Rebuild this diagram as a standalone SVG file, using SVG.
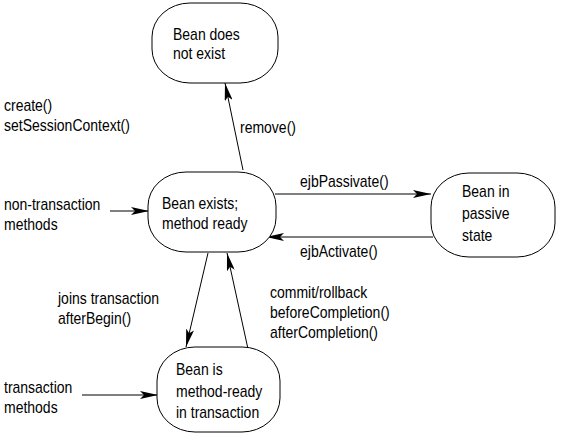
<svg xmlns="http://www.w3.org/2000/svg" width="561" height="438" viewBox="0 0 561 438">
<style>
text{font-family:"Liberation Sans",Arial,sans-serif;font-size:16px;fill:#000}
.n{fill:#fff;stroke:#000;stroke-width:1}
.c{stroke:#000;stroke-width:1;fill:none;marker-end:url(#ah)}
</style>
<defs>
<marker id="ah" viewBox="0 0 18 8" refX="18" refY="4" markerWidth="18" markerHeight="8" markerUnits="userSpaceOnUse" orient="auto">
<path d="M0,0 L18,4 L0,8 L4,4 z" fill="#000"/>
</marker>
</defs>
<rect width="561" height="438" fill="#fff"/>
<g id="connectors">
<line class="c" x1="243" y1="170" x2="225" y2="83"/>
<line class="c" x1="275" y1="194" x2="431" y2="194"/>
<line class="c" x1="433" y1="237" x2="266" y2="237"/>
<line class="c" x1="208" y1="253" x2="186" y2="347"/>
<line class="c" x1="248" y1="349" x2="227" y2="253"/>
<line class="c" x1="110" y1="211" x2="149" y2="211"/>
<line class="c" x1="82" y1="395" x2="158" y2="395"/>
</g>
<g id="labels">
<text transform="translate(4,111) scale(0.875,1)">create()</text>
<text transform="translate(4,131) scale(0.875,1)">setSessionContext()</text>
<text transform="translate(240,133) scale(0.875,1)">remove()</text>
<text transform="translate(300,187) scale(0.875,1)">ejbPassivate()</text>
<text transform="translate(300,257) scale(0.875,1)">ejbActivate()</text>
<text transform="translate(4,210) scale(0.875,1)">non-transaction</text>
<text transform="translate(4,230) scale(0.875,1)">methods</text>
<text transform="translate(58,304) scale(0.875,1)">joins transaction</text>
<text transform="translate(58,324) scale(0.875,1)">afterBegin()</text>
<text transform="translate(270,298) scale(0.875,1)">commit/rollback</text>
<text transform="translate(270,318) scale(0.875,1)">beforeCompletion()</text>
<text transform="translate(270,338) scale(0.875,1)">afterCompletion()</text>
<text transform="translate(4,393) scale(0.875,1)">transaction</text>
<text transform="translate(4,413) scale(0.875,1)">methods</text>
</g>
<g id="node-not-exist">
<rect class="n" x="152" y="3" width="126" height="80" rx="38" ry="34"/>
<text transform="translate(173,40) scale(0.875,1)">Bean does</text>
<text transform="translate(173,59) scale(0.875,1)">not exist</text>
</g>
<g id="node-method-ready">
<rect class="n" x="148" y="172" width="128" height="80" rx="38" ry="34"/>
<text transform="translate(162,209) scale(0.875,1)">Bean exists;</text>
<text transform="translate(162,229) scale(0.875,1)">method ready</text>
</g>
<g id="node-passive">
<rect class="n" x="431" y="173" width="124" height="84" rx="38" ry="34"/>
<text transform="translate(462,197) scale(0.875,1)">Bean in</text>
<text transform="translate(462,219) scale(0.875,1)">passive</text>
<text transform="translate(462,241) scale(0.875,1)">state</text>
</g>
<g id="node-transaction">
<rect class="n" x="157" y="347" width="123" height="85" rx="38" ry="34"/>
<text transform="translate(176,375) scale(0.875,1)">Bean is</text>
<text transform="translate(176,397) scale(0.875,1)">method-ready</text>
<text transform="translate(176,418) scale(0.875,1)">in transaction</text>
</g>
</svg>
